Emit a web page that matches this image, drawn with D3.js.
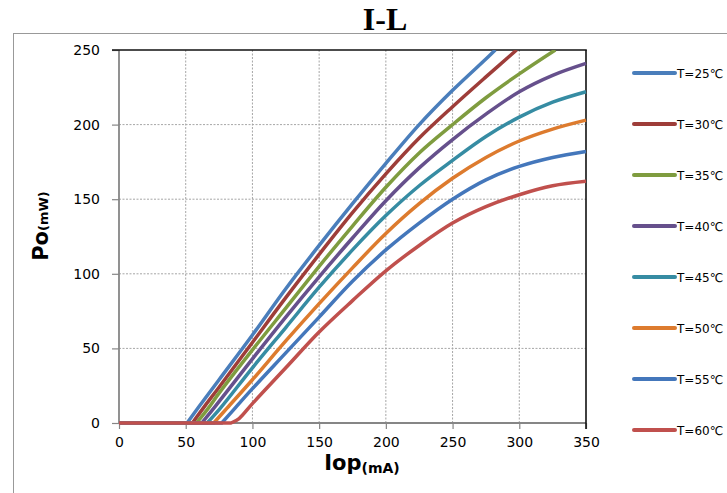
<!DOCTYPE html>
<html>
<head>
<meta charset="utf-8">
<script src="https://cdn.jsdelivr.net/npm/d3@7"></script>
<style>
  body { margin: 0; background: white; }
  svg { display: block; }
</style>
</head>
<body>
<div id="chart"></div>
<script>
// I-L curves: [Iop mA, Po mW]
const t25 = [[0,0],[51,0],[60,11],[75,29],[100,59],[125,90],[150,119],[175,147],[200,174],[225,200],[250,223],[275,244],[282,250]];
const t30 = [[0,0],[55,0],[64,11],[75,24],[100,54],[125,84],[150,113],[175,141],[200,167],[225,191],[250,212],[275,232],[298,250]];
const t35 = [[0,0],[58,0],[67,10],[75,20],[100,49],[125,77],[150,105],[175,132],[200,158],[225,181],[250,200],[275,218],[300,234],[327,250]];
const t40 = [[0,0],[62,0],[72,11],[100,43],[125,71],[150,98],[175,124],[200,149],[225,171],[250,190],[275,207],[300,222],[325,233],[350,241]];
const t45 = [[0,0],[66,0],[76,10],[100,37],[125,64],[150,91],[175,116],[200,139],[225,159],[250,176],[275,192],[300,205],[325,215],[350,222]];
const t50 = [[0,0],[71,0],[81,10],[100,29],[125,55],[150,80],[175,104],[200,127],[225,147],[250,164],[275,178],[300,189],[325,197],[350,203]];
const t55 = [[0,0],[77,0],[87,10],[100,23],[125,47],[150,71],[175,95],[200,116],[225,134],[250,150],[275,163],[300,172],[325,178],[350,182]];
const t60 = [[0,0],[84,0],[90,3],[100,13],[125,37],[150,61],[175,82],[200,102],[225,119],[250,134],[275,145],[300,153],[325,159],[350,162]];

const seriesNames = ["T=25℃","T=30℃","T=35℃","T=40℃","T=45℃","T=50℃","T=55℃","T=60℃"];
const seriesData = [t25, t30, t35, t40, t45, t50, t55, t60];
const seriesColors = ["#4a7ebb","#9e3d39","#7f9c3f","#66508c","#368ca3","#dd7b2e","#4477bb","#c0504d"];

const xTicks = [0,50,100,150,200,250,300,350];
const yTicks = [0,50,100,150,200,250];

const W = 727, H = 493;
const plotL = 119, plotR = 586, plotT = 50, plotB = 423;

const svg = d3.select("#chart").append("svg")
    .attr("width", W)
    .attr("height", H);

// chart area frame
svg.append("rect")
    .attr("x", 13.5).attr("y", 33.5)
    .attr("width", 760).attr("height", 520)
    .style("fill", "white")
    .style("stroke", "#999")
    .style("stroke-width", 1);

svg.append("text")
    .attr("x", 385).attr("y", 30)
    .attr("text-anchor", "middle")
    .style("font-family", "'Liberation Serif', 'Times New Roman', serif")
    .style("font-weight", "bold")
    .style("font-size", "32px")
    .text("I-L");

const x = d3.scaleLinear().domain([0, 350]).range([plotL, plotR]);
const y = d3.scaleLinear().domain([0, 250]).range([plotB, plotT]);

// gridlines
const grid = svg.append("g").attr("id", "grid");
for(const v of xTicks.slice(1, -1)) {
    grid.append("line")
        .attr("x1", x(v)).attr("x2", x(v))
        .attr("y1", plotT).attr("y2", plotB)
        .style("stroke", "#a6a6a6")
        .style("stroke-dasharray", "2,1.5");
}
for(const v of yTicks.slice(1, -1)) {
    grid.append("line")
        .attr("x1", plotL).attr("x2", plotR)
        .attr("y1", y(v)).attr("y2", y(v))
        .style("stroke", "#a6a6a6")
        .style("stroke-dasharray", "2,1.5");
}

// axes
const tickFont = "'DejaVu Sans', Verdana, sans-serif";
const yAxis = svg.append("g")
    .attr("transform", "translate(" + plotL + ",0)")
    .call(d3.axisLeft(y).tickValues(yTicks).tickSize(7).tickPadding(12));
const xAxis = svg.append("g")
    .attr("transform", "translate(0," + plotB + ")")
    .call(d3.axisBottom(x).tickValues(xTicks).tickSize(6).tickPadding(8));
for(const ax of [xAxis, yAxis]) {
    ax.select(".domain").remove();
    ax.selectAll(".tick line").style("stroke", "#868686").style("stroke-width", 1.2);
    ax.selectAll(".tick text")
        .style("font-family", tickFont)
        .style("font-size", "14px")
        .style("fill", "#000");
}

// plot frame: gray axes on left/bottom, black on top/right
svg.append("line")
    .attr("x1", plotL).attr("x2", plotL).attr("y1", plotT).attr("y2", plotB)
    .style("stroke", "#868686").style("stroke-width", 1.8);
svg.append("line")
    .attr("x1", plotL).attr("x2", plotR).attr("y1", plotB).attr("y2", plotB)
    .style("stroke", "#868686").style("stroke-width", 1.8);
svg.append("line")
    .attr("x1", plotL - 7).attr("x2", plotR + 0.8).attr("y1", plotT).attr("y2", plotT)
    .style("stroke", "#111").style("stroke-width", 1.6);
svg.append("line")
    .attr("x1", plotR).attr("x2", plotR).attr("y1", plotT).attr("y2", plotB + 6)
    .style("stroke", "#111").style("stroke-width", 1.6);

// curves
svg.append("clipPath").attr("id", "plot-clip")
    .append("rect")
    .attr("x", plotL - 3).attr("y", plotT)
    .attr("width", plotR - plotL + 6).attr("height", plotB - plotT + 4);

// flat part below threshold is straight, the lasing part is smoothed
const flat = d3.line()
    .x(d => x(d[0]))
    .y(d => y(d[1]));
const smooth = d3.line()
    .x(d => x(d[0]))
    .y(d => y(d[1]))
    .curve(d3.curveCatmullRom.alpha(0.5));

const curves = svg.append("g").attr("clip-path", "url(#plot-clip)");
seriesData.forEach((data, i) => {
    const d = flat(data.slice(0, 2)) + "L" + smooth(data.slice(1)).slice(1);
    curves.append("path")
        .attr("d", d)
        .style("fill", "none")
        .style("stroke", seriesColors[i])
        .style("stroke-width", 3.5)
        .style("stroke-linejoin", "round");
});

// axis titles
const xTitle = svg.append("text")
    .attr("x", 362).attr("y", 470)
    .attr("text-anchor", "middle")
    .style("font-family", tickFont)
    .style("font-weight", "bold");
xTitle.append("tspan").style("font-size", "21px").text("Iop");
xTitle.append("tspan").style("font-size", "14px").attr("dy", 3).text("(mA)");

const yTitle = svg.append("text")
    .attr("transform", "translate(48,226) rotate(-90)")
    .attr("text-anchor", "middle")
    .style("font-family", tickFont)
    .style("font-weight", "bold");
yTitle.append("tspan").style("font-size", "21px").text("Po");
yTitle.append("tspan").style("font-size", "13px").text("(mW)");

// legend
const legend = svg.append("g").attr("id", "legend");
seriesNames.forEach((name, i) => {
    const ly = 73 + i * 51;
    legend.append("line")
        .attr("x1", 634).attr("x2", 675)
        .attr("y1", ly).attr("y2", ly)
        .style("stroke", seriesColors[i])
        .style("stroke-width", 4)
        .style("stroke-linecap", "round");
    legend.append("text")
        .attr("x", 677).attr("y", ly + 4.5)
        .style("font-family", tickFont)
        .style("font-size", "12px")
        .text(name);
});
</script>
</body>
</html>
